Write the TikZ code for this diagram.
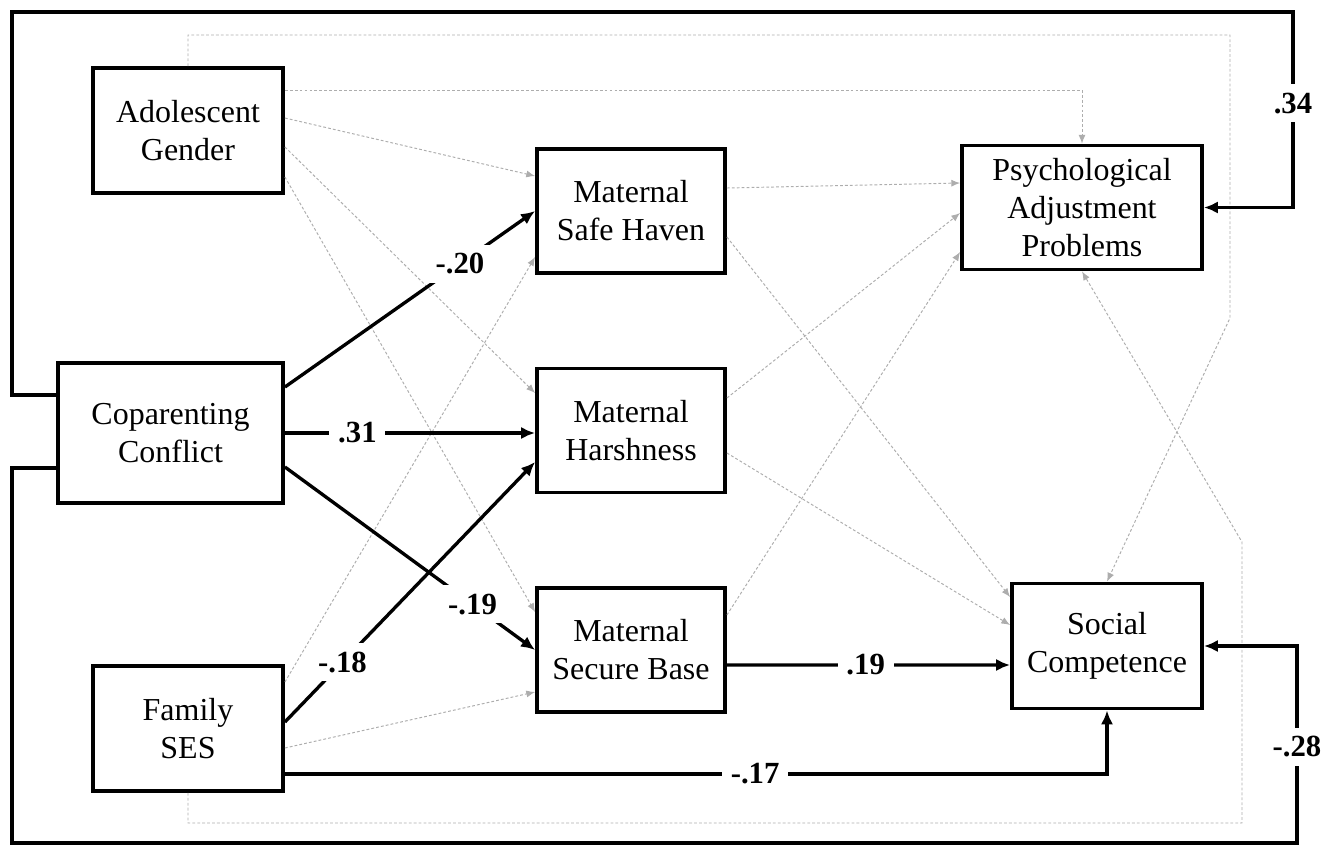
\documentclass[tikz,border=0pt]{standalone}
\usepackage{fontspec}
\setmainfont{Liberation Serif}
\usetikzlibrary{arrows.meta, calc}
\tikzset{
  % Variable box
  VB/.style={rectangle,draw=black,line width=2.2pt,minimum width=#1,
             minimum height=2.5cm,align=center,inner sep=2pt,
             font=\fontsize{18.2}{21.6}\selectfont},
  VB/.default=3.8cm,
  % Significant path
  Arr/.style ={-{Latex[length=8pt,width=7pt]},line width=1.9pt,color=black},
  % Non-significant path
  GArr/.style={-{Latex[length=5pt,width=4pt]},line width=0.55pt,
               color=black!32,dash pattern=on 1.6pt off 1.2pt},
  % Coefficient label
  Lbl/.style={fill=white,inner sep=5pt,font=\fontsize{17.5}{19}\selectfont\bfseries},
}

\begin{document}
\begin{tikzpicture}[x=0.02cm,y=-0.02cm]
\useasboundingbox (0,0) rectangle (1326,846);
% ── Predictors ───────────────────────────
\node[VB] at (188,130.5) (gen) {Adolescent\\Gender};
\node[VB=4.5cm,minimum height=2.8cm] at (170.5,433) (cop) {Coparenting\\Conflict};
\node[VB] at (188,728.5) (ses) {Family\\SES};
% ── Mediators ────────────────────────────
\node[VB=3.76cm,minimum height=2.48cm] at (631,211) (sh)  {Maternal\\Safe Haven};
\node[VB=3.76cm,minimum height=2.48cm] at (631,430.5) (hsh) {Maternal\\Harshness};
\node[VB=3.76cm,minimum height=2.48cm] at (631,650) (sb)  {Maternal\\Secure Base};
% ── Outcomes ─────────────────────────────
\node[VB=4.8cm,minimum height=2.48cm] at (1082,207.5) (psy) {Psychological\\Adjustment\\Problems};
\node[VB] at (1107,646) (soc) {Social\\Competence};
% frame corners
\coordinate (gtr) at (1230,35);
\coordinate (gbnd) at (1230,318);
\coordinate (gbr) at (1242,823);
\coordinate (gbnd2) at (1242,542);
\coordinate (ltop) at (12,12);
\coordinate (rtop) at (1293,12);
\coordinate (lbot) at (12,843);
\coordinate (rbot) at (1297,843);
% ── Non-significant paths ────────────────
\draw[GArr] ([yshift=0.81cm]gen.east) -| (psy.north);
\draw[GArr] ([yshift=0.25cm]gen.east) -- ([yshift=0.7cm]sh.west);
\draw[GArr] ([yshift=-0.33cm]gen.east) -- ([yshift=0.75cm]hsh.west);
\draw[GArr] ([yshift=-0.93cm]gen.east) -- ([yshift=0.76cm]sb.west);
\draw[GArr] (gen.north) |- (gtr) -- (gbnd) -- (soc.north);
\draw[GArr] ([yshift=0.93cm]ses.east) -- ([yshift=-0.92cm]sh.west);
\draw[GArr] ([yshift=-0.39cm]ses.east) -- ([yshift=-0.84cm]sb.west);
\draw[GArr] (ses.south) |- (gbr) -- (gbnd2) -- (psy.south);
\draw[GArr] ([yshift=0.46cm]sh.east) -- ([yshift=0.49cm]psy.west);
\draw[GArr] ([yshift=0.65cm]hsh.east) -- ([yshift=-0.11cm]psy.west);
\draw[GArr] ([yshift=0.7cm]sb.east) -- ([yshift=-0.89cm]psy.west);
\draw[GArr] ([yshift=-0.52cm]sh.east) -- ([yshift=0.98cm]soc.west);
\draw[GArr] ([yshift=-0.45cm]hsh.east) -- ([yshift=0.42cm]soc.west);
% ── Significant paths ────────────────────
\draw[Arr] ([yshift=0.92cm]cop.east) -- node[Lbl,pos=0.7]{-.20} (sh.west);
\draw[Arr] (cop.east) -- node[Lbl,pos=0.29]{.31} (cop.east -| hsh.west);
\draw[Arr] ([yshift=-0.68cm]cop.east) -- node[Lbl,pos=0.75]{-.19} (sb.west);
\draw[Arr] ([yshift=0.13cm]ses.east) -- node[Lbl,pos=0.23]{-.18} ([yshift=-0.63cm]hsh.west);
\draw[Arr] ([yshift=-0.3cm]sb.east) -- node[Lbl,pos=0.49]{.19} ([yshift=-0.38cm]soc.west);
\draw[Arr] ([yshift=-0.91cm]ses.east) -| node[Lbl,pos=0.286]{-.17} (soc.south);
\draw[Arr] ([yshift=0.76cm]cop.west) -| (ltop) -- (rtop)
  |- node[Lbl,pos=0.233]{.34} (psy.east);
\draw[Arr] ([yshift=-0.7cm]cop.west) -| (lbot) -- (rbot)
  |- node[Lbl,pos=0.244]{-.28} (soc.east);
\end{tikzpicture}
\end{document}
